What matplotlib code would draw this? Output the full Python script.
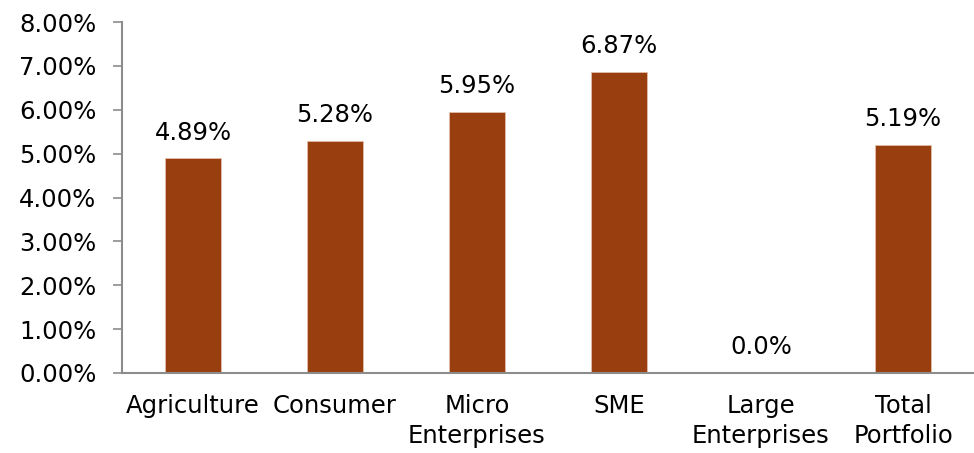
import matplotlib
matplotlib.use("Agg")
import matplotlib.pyplot as plt
from matplotlib.ticker import FuncFormatter, MultipleLocator

categories = ["Agriculture", "Consumer", "Micro\nEnterprises", "SME", "Large\nEnterprises", "Total\nPortfolio"]
rates = [4.89, 5.28, 5.95, 6.87, 0.0, 5.19]
rate_labels = ["4.89%", "5.28%", "5.95%", "6.87%", "0.0%", "5.19%"]

plt.rcParams["font.family"] = ["DejaVu Sans"]
FS = 17.5

fig = plt.figure(figsize=(9.74, 4.53), dpi=100)
ax = fig.add_axes([122 / 974, 80 / 453, 1 - 122 / 974, 351 / 453])

x = range(len(categories))
bars = ax.bar(x, rates, width=0.4, color="#993F0F", edgecolor="#E8C4B0", linewidth=0.5)

for xi, v, lab in zip(x, rates, rate_labels):
    ax.annotate(lab, (xi, v), xytext=(0, 10), textcoords="offset points",
                ha="center", va="bottom", fontsize=FS, color="#000000")

ax.set_xlim(-0.5, len(categories) - 0.5)
ax.set_ylim(0, 8)
ax.yaxis.set_major_locator(MultipleLocator(1))
ax.yaxis.set_major_formatter(FuncFormatter(lambda v, p: f"{v:.2f}%"))

ax.set_xticks(list(x))
ax.set_xticklabels(categories, fontsize=FS, linespacing=1.3)
ax.tick_params(axis="x", length=0, pad=15)
ax.tick_params(axis="y", length=6.5, width=1.2, color="#8C8C8C", labelsize=FS, pad=12)

for side in ["top", "right"]:
    ax.spines[side].set_visible(False)
for side in ["left", "bottom"]:
    ax.spines[side].set_color("#8C8C8C")
    ax.spines[side].set_linewidth(1.5)

fig.savefig("out.png", dpi=100)
